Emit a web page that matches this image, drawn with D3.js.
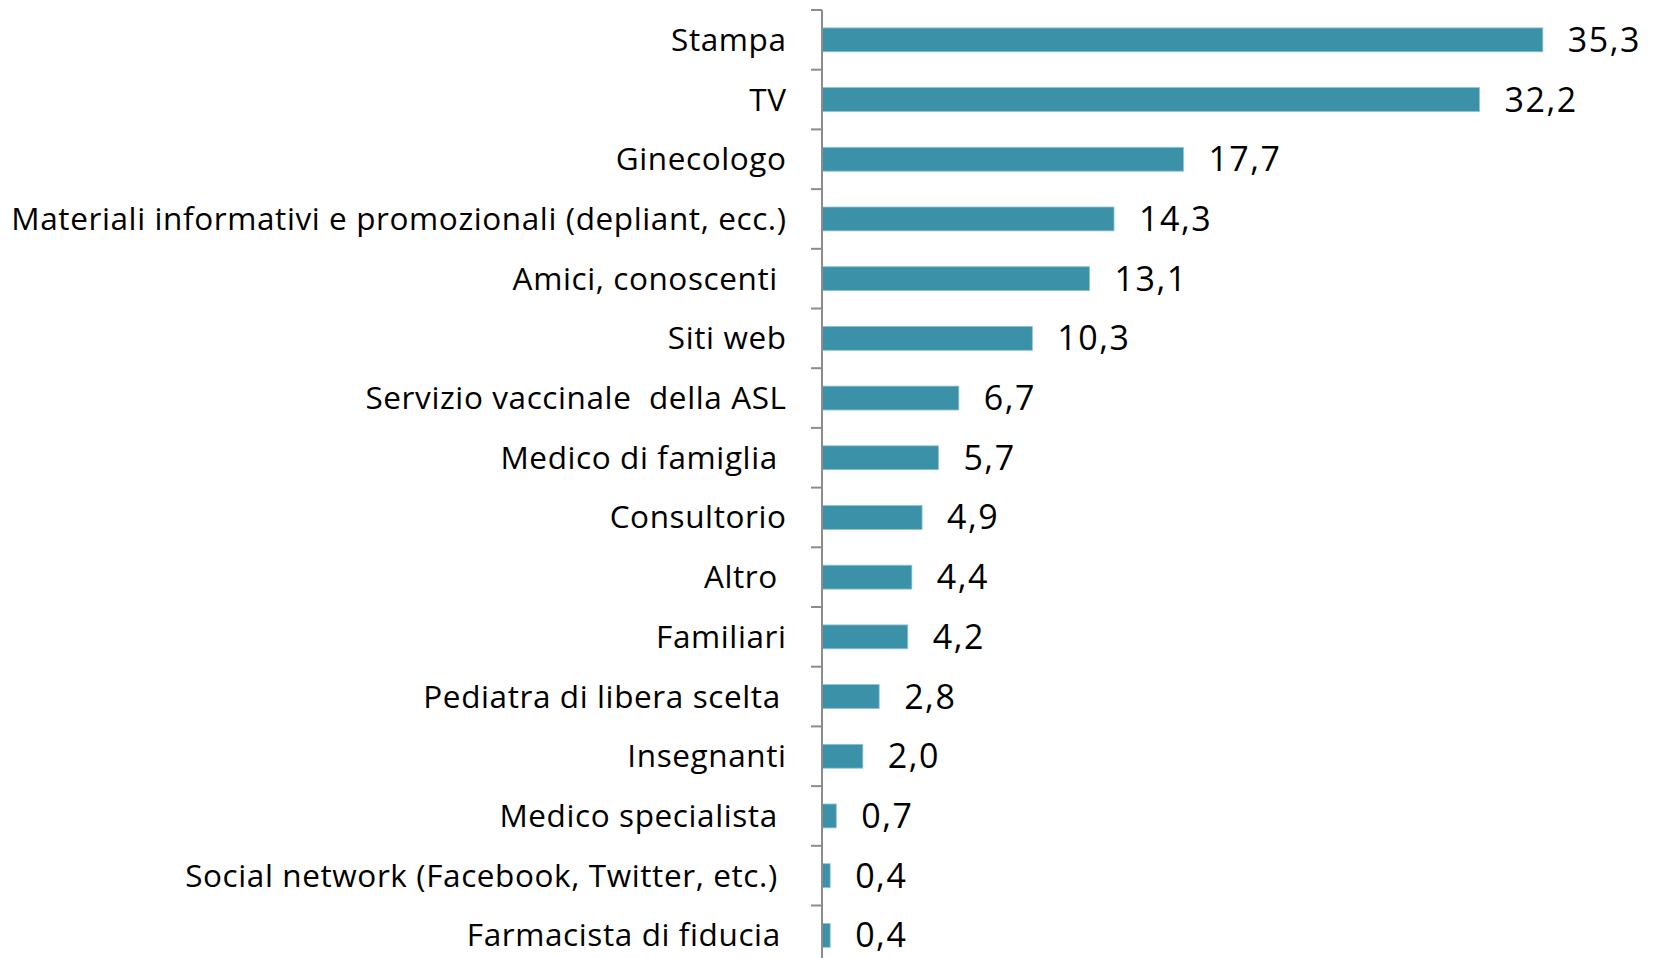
<!DOCTYPE html>
<html>
<head>
<meta charset="utf-8">
<script src="https://cdn.jsdelivr.net/npm/d3@7"></script>
<style>
  html, body { margin: 0; padding: 0; background: #fff; overflow: hidden; }
  text { white-space: pre; }
</style>
</head>
<body>
<svg id="chart" width="1655" height="958"></svg>
<script>
const categories = [
  "Stampa",
  "TV",
  "Ginecologo",
  "Materiali informativi e promozionali (depliant, ecc.)",
  "Amici, conoscenti ",
  "Siti web",
  "Servizio vaccinale  della ASL",
  "Medico di famiglia ",
  "Consultorio",
  "Altro ",
  "Familiari",
  "Pediatra di libera scelta\u2009",
  "Insegnanti",
  "Medico specialista ",
  "Social network (Facebook, Twitter, etc.) ",
  "Farmacista di fiducia\u2009"
];
const values = [35.3, 32.2, 17.7, 14.3, 13.1, 10.3, 6.7, 5.7, 4.9, 4.4, 4.2, 2.8, 2.0, 0.7, 0.4, 0.4];
const valueLabels = ["35,3","32,2","17,7","14,3","13,1","10,3","6,7","5,7","4,9","4,4","4,2","2,8","2,0","0,7","0,4","0,4"];

(function () {
const svg = d3.select("#chart");
const axisX = 822;
const plotTop = 10;
const step = 59.7;

const x = d3.scaleLinear().domain([0, 40]).range([axisX, axisX + 40 * 20.42]);
const y = d3.scaleBand()
  .domain(categories)
  .range([plotTop, plotTop + step * categories.length])
  .paddingInner(0.6)
  .paddingOuter(0.3);

const font = "'Open Sans', sans-serif";

svg.append("g").selectAll("rect")
  .data(values)
  .join("rect")
  .attr("x", x(0))
  .attr("y", (d, i) => y(categories[i]))
  .attr("width", d => x(d) - x(0))
  .attr("height", y.bandwidth())
  .attr("fill", "#3A91A8")
  .attr("stroke", "#8fc3d1")
  .attr("stroke-width", 0.8);

const axisG = svg.append("g").attr("stroke", "#8c8c8c").attr("stroke-width", 2);
const yr = y.range();
axisG.append("line").attr("x1", axisX).attr("x2", axisX).attr("y1", yr[0]).attr("y2", yr[1]);
const boundaries = d3.range(categories.length + 1).map(i => yr[0] + i * y.step());
axisG.selectAll("line.tick")
  .data(boundaries)
  .join("line")
  .attr("class", "tick")
  .attr("x1", axisX - 11).attr("x2", axisX)
  .attr("y1", d => d).attr("y2", d => d);

svg.append("g").selectAll("text")
  .data(categories)
  .join("text")
  .attr("x", 786.6)
  .attr("y", d => y(d) + y.bandwidth() / 2)
  .attr("dy", "0.35em")
  .attr("text-anchor", "end")
  .attr("font-family", font)
  .attr("font-size", 31.5)
  .attr("letter-spacing", 0.6)
  .attr("fill", "#000")
  .text(d => d);

svg.append("g").selectAll("text")
  .data(values)
  .join("text")
  .attr("x", d => x(d) + 25)
  .attr("y", (d, i) => y(categories[i]) + y.bandwidth() / 2 + 12)
  .attr("font-family", font)
  .attr("font-size", 34)
  .attr("letter-spacing", 1.5)
  .attr("fill", "#000")
  .text((d, i) => valueLabels[i]);
})();
</script>
</body>
</html>
